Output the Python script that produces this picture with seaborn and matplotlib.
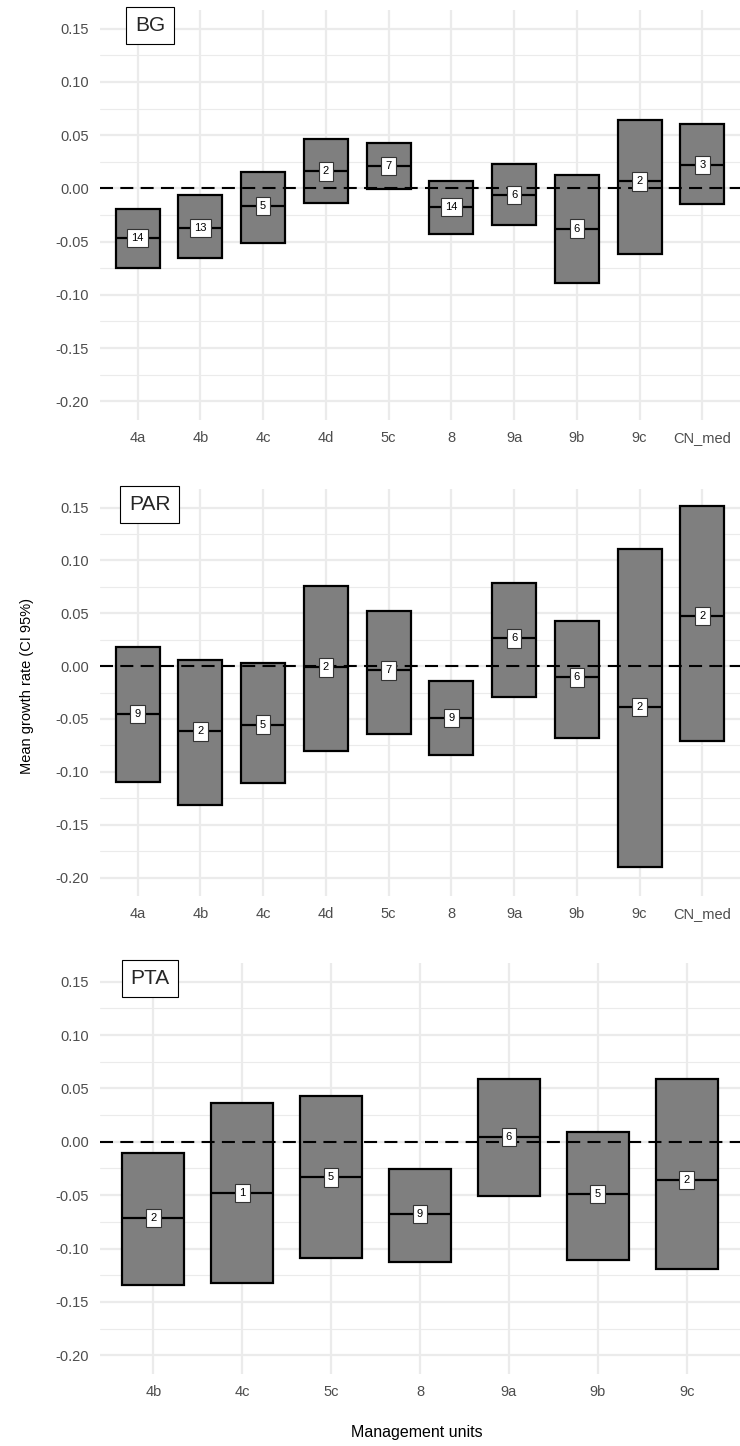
import matplotlib
matplotlib.use('Agg')
import matplotlib.pyplot as plt
from matplotlib.ticker import MultipleLocator
import seaborn as sns
import numpy as np

# DATA ------------------------------------------------------------------------

bg_units = ['4a', '4b', '4c', '4d', '5c', '8', '9a', '9b', '9c', 'CN_med']
bg_mean = [-0.0466, -0.037, -0.0164, 0.016, 0.021, -0.0173, -0.006, -0.0377, 0.0066, 0.0217]
bg_lower = [-0.075, -0.0657, -0.0513, -0.0135, -0.001, -0.0428, -0.034, -0.089, -0.0616, -0.0145]
bg_upper = [-0.019, -0.0066, 0.015, 0.0462, 0.0428, 0.0066, 0.023, 0.0126, 0.064, 0.0607]
bg_n = [14, 13, 5, 2, 7, 14, 6, 6, 2, 3]

par_units = ['4a', '4b', '4c', '4d', '5c', '8', '9a', '9b', '9c', 'CN_med']
par_mean = [-0.0453, -0.0617, -0.0554, -0.0013, -0.0041, -0.049, 0.0262, -0.0107, -0.0386, 0.0473]
par_lower = [-0.1097, -0.1315, -0.111, -0.0806, -0.0642, -0.0844, -0.029, -0.0683, -0.1896, -0.0708]
par_upper = [0.0177, 0.0054, 0.0025, 0.0757, 0.0517, -0.0145, 0.0785, 0.0426, 0.1107, 0.151]
par_n = [9, 2, 5, 2, 7, 9, 6, 6, 2, 2]

pta_units = ['4b', '4c', '5c', '8', '9a', '9b', '9c']
pta_mean = [-0.0716, -0.0478, -0.0333, -0.0678, 0.0044, -0.049, -0.0358]
pta_lower = [-0.1338, -0.1325, -0.109, -0.113, -0.0506, -0.111, -0.119]
pta_upper = [-0.0104, 0.0367, 0.043, -0.0257, 0.0593, 0.0088, 0.0587]
pta_n = [2, 1, 5, 9, 6, 5, 2]

species = ['BG', 'PAR', 'PTA']

# STYLE -----------------------------------------------------------------------

sns.set_theme(style='whitegrid')
plt.rcParams['font.family'] = ['Liberation Sans', 'DejaVu Sans']

fig = plt.figure(figsize=(7.4, 14.46), dpi=100)

# axes rectangles in figure fraction (left, bottom, width, height)
panel_rects = [
    (100 / 740, 1 - 420 / 1446, 640 / 740, 410 / 1446),
    (100 / 740, 1 - 896 / 1446, 640 / 740, 407 / 1446),
    (100 / 740, 1 - 1374 / 1446, 640 / 740, 411 / 1446),
]

panels = [
    (bg_units, bg_mean, bg_lower, bg_upper, bg_n),
    (par_units, par_mean, par_lower, par_upper, par_n),
    (pta_units, pta_mean, pta_lower, pta_upper, pta_n),
]

box_width = 0.7

for rect, (units, mean, lower, upper, n), sp in zip(panel_rects, panels, species):
    ax = fig.add_axes(rect)
    lower = np.array(lower)
    upper = np.array(upper)

    # crossbar body: bar from lower CI to upper CI
    sns.barplot(x=units, y=upper - lower, bottom=lower, order=units, ax=ax,
                width=box_width, color='#7f7f7f', saturation=1,
                edgecolor='black', linewidth=1.6, errorbar=None, zorder=3)

    pos = np.arange(len(units))
    ax.hlines(mean, pos - box_width / 2, pos + box_width / 2, color='black', lw=1.6, zorder=4)
    ax.axhline(0, color='black', lw=1.5, ls=(0, (6.25, 3.5)), zorder=5)

    for i, (m, k) in enumerate(zip(mean, n)):
        ax.text(i, m, str(k), ha='center', va='center', fontsize=8, color='black', zorder=6,
                bbox=dict(boxstyle='square,pad=0.38', fc='white', ec='#333333', lw=0.8))

    ax.text(0.078, 0.962, sp, transform=ax.transAxes, ha='center', va='center', fontsize=15,
            bbox=dict(boxstyle='square,pad=0.42', fc='white', ec='black', lw=0.8), zorder=7)

    ax.set_xlim(-0.6, len(units) - 1 + 0.6)
    ax.set_ylim(-0.2175, 0.1675)
    ax.set_yticks([-0.20, -0.15, -0.10, -0.05, 0.00, 0.05, 0.10, 0.15])
    ax.set_yticklabels(['-0.20', '-0.15', '-0.10', '-0.05', '0.00', '0.05', '0.10', '0.15'])
    ax.yaxis.set_minor_locator(MultipleLocator(0.025))
    ax.grid(which='major', color='#ebebeb', lw=1.6)
    ax.grid(which='minor', axis='y', color='#ebebeb', lw=0.8)
    ax.set_axisbelow(True)
    ax.set_facecolor('white')
    ax.tick_params(axis='both', which='both', length=0, labelsize=10.5, colors='#4d4d4d', pad=8)
    ax.set_xlabel('')
    ax.set_ylabel('')
    sns.despine(ax=ax, left=True, bottom=True)

fig.text(0.037, 1 - 686 / 1446, 'Mean growth rate (CI 95%)', rotation=90, ha='center', va='center',
         fontsize=10.5, color='black')
fig.text(417 / 740, 1 - 1433 / 1446, 'Management units', ha='center', va='center',
         fontsize=11.5, color='black')

fig.savefig('out.png', dpi=100)
